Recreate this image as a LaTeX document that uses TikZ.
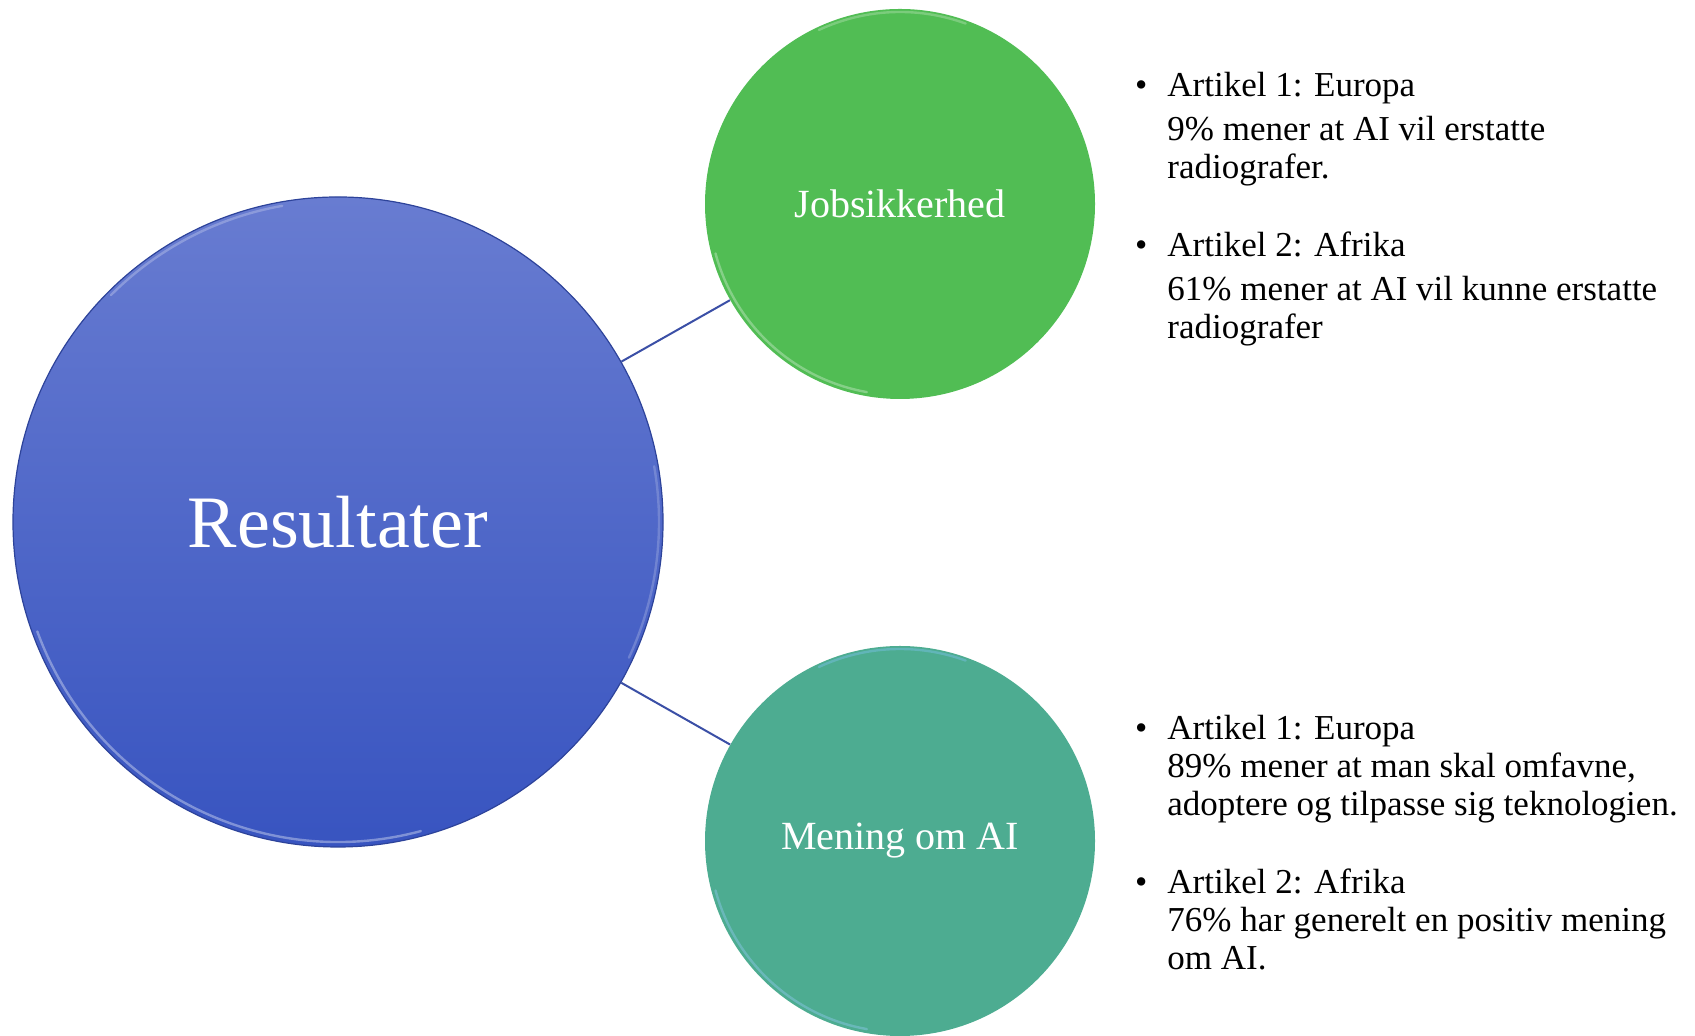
\documentclass[tikz,border=0pt]{standalone}
\usepackage{fontspec}
\setmainfont{Liberation Serif}
\usepackage{xcolor}
\definecolor{resTop}{RGB}{104,124,209}
\definecolor{resBot}{RGB}{56,84,192}
\definecolor{jobGreen}{RGB}{81,189,84}
\definecolor{menTeal}{RGB}{77,172,145}
\definecolor{linkBlue}{RGB}{59,79,166}

\begin{document}
\begin{tikzpicture}[x=0.5pt, y=0.5pt,
    bubble/.style={circle, inner sep=0pt, text=white, align=center},
    rim/.style={line width=1.2pt, line cap=round, opacity=0.6},
    link/.style={draw=linkBlue, line width=1pt},
    itemtxt/.style={anchor=north west, inner sep=0pt, align=left, font=\fontsize{17.5}{19}\selectfont}]
    \useasboundingbox (0,0) rectangle (1695,1036);
    \node[bubble, minimum size=325pt, top color=resTop, bottom color=resBot, draw=resBot!80!black, line width=0.6pt, font=\fontsize{37}{44}\selectfont] (res) at (338,514) {Resultater};
    \node[bubble, minimum size=195pt, fill=jobGreen, font=\fontsize{20}{24}\selectfont] (job) at (900,832) {Jobsikkerhed};
    \node[bubble, minimum size=195pt, fill=menTeal, font=\fontsize{20}{24}\selectfont] (men) at (900,195) {Mening om AI};
    \draw[rim, white!60!resBot] (res.center) ++(200:320) arc[start angle=200, end angle=285, radius=320];
    \draw[rim, white!40!resTop] (res.center) ++(100:321) arc[start angle=100, end angle=135, radius=321];
    \draw[rim, white!40!resBot] (res.center) ++(-25:321) arc[start angle=-25, end angle=10, radius=321];
    \draw[rim, white!50!jobGreen] (job.center) ++(195:191) arc[start angle=195, end angle=260, radius=191];
    \draw[rim, white!40!jobGreen] (job.center) ++(70:192) arc[start angle=70, end angle=115, radius=192];
    \draw[rim, white!50!cyan!60!menTeal] (men.center) ++(195:191) arc[start angle=195, end angle=260, radius=191];
    \draw[rim, white!40!cyan!60!menTeal] (men.center) ++(70:192) arc[start angle=70, end angle=115, radius=192];
    \draw[link] (res) -- (job);
    \draw[link] (res) -- (men);
    \node[itemtxt] (job1) at (1167,964) {\llap{\textbullet\hspace{10pt}}Artikel 1: Europa\\[3pt] 9\% mener at AI vil erstatte\\ radiografer.};
    \node[itemtxt] (job2) at (1167,805) {\llap{\textbullet\hspace{10pt}}Artikel 2: Afrika\\[3pt] 61\% mener at AI vil kunne erstatte\\ radiografer};
    \node[itemtxt] (men1) at (1167,321) {\llap{\textbullet\hspace{10pt}}Artikel 1: Europa\\ 89\% mener at man skal omfavne,\\ adoptere og tilpasse sig teknologien.};
    \node[itemtxt] (men2) at (1167,168) {\llap{\textbullet\hspace{10pt}}Artikel 2: Afrika\\ 76\% har generelt en positiv mening\\ om AI.};
\end{tikzpicture}
\end{document}
